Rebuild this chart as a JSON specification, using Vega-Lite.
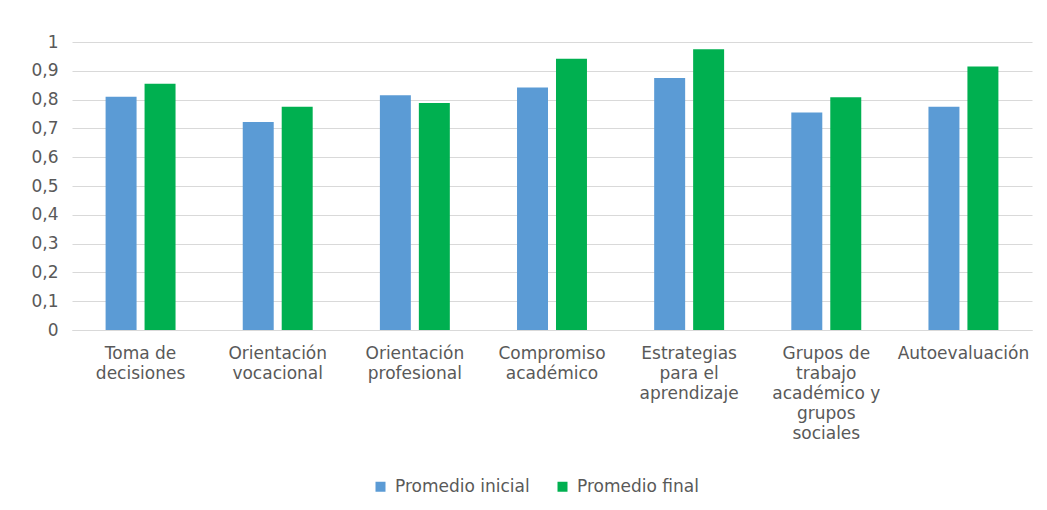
{
  "$schema": "https://vega.github.io/schema/vega-lite/v6.json",
  "autosize": {"type": "none"},
  "width": 960,
  "height": 288,
  "padding": {"left": 72, "top": 42, "right": 15, "bottom": 180},
  "background": "white",
  "data": {
    "values": [
      {"categoria": "Toma de decisiones", "serie": "Promedio inicial", "valor": 0.81},
      {"categoria": "Toma de decisiones", "serie": "Promedio final", "valor": 0.855},
      {"categoria": "Orientación vocacional", "serie": "Promedio inicial", "valor": 0.722},
      {"categoria": "Orientación vocacional", "serie": "Promedio final", "valor": 0.775},
      {"categoria": "Orientación profesional", "serie": "Promedio inicial", "valor": 0.815},
      {"categoria": "Orientación profesional", "serie": "Promedio final", "valor": 0.788},
      {"categoria": "Compromiso académico", "serie": "Promedio inicial", "valor": 0.842},
      {"categoria": "Compromiso académico", "serie": "Promedio final", "valor": 0.942},
      {"categoria": "Estrategias para el aprendizaje", "serie": "Promedio inicial", "valor": 0.875},
      {"categoria": "Estrategias para el aprendizaje", "serie": "Promedio final", "valor": 0.975},
      {"categoria": "Grupos de trabajo académico y grupos sociales", "serie": "Promedio inicial", "valor": 0.755},
      {"categoria": "Grupos de trabajo académico y grupos sociales", "serie": "Promedio final", "valor": 0.808},
      {"categoria": "Autoevaluación", "serie": "Promedio inicial", "valor": 0.775},
      {"categoria": "Autoevaluación", "serie": "Promedio final", "valor": 0.915}
    ]
  },
  "mark": {"type": "bar"},
  "encoding": {
    "x": {
      "field": "categoria",
      "type": "nominal",
      "sort": null,
      "scale": {"paddingInner": 0.49, "paddingOuter": 0.245},
      "axis": {
        "title": null,
        "labelAngle": 0,
        "ticks": false,
        "domain": true,
        "domainColor": "#D9D9D9",
        "labelPadding": 15,
        "labelLineHeight": 20,
        "labelBaseline": "top",
        "labelLimit": 200,
        "labelExpr": "datum.value == 'Toma de decisiones' ? ['Toma de','decisiones'] : datum.value == 'Orientación vocacional' ? ['Orientación','vocacional'] : datum.value == 'Orientación profesional' ? ['Orientación','profesional'] : datum.value == 'Compromiso académico' ? ['Compromiso','académico'] : datum.value == 'Estrategias para el aprendizaje' ? ['Estrategias','para el','aprendizaje'] : datum.value == 'Grupos de trabajo académico y grupos sociales' ? ['Grupos de','trabajo','académico y','grupos','sociales'] : datum.value"
      }
    },
    "xOffset": {
      "field": "serie",
      "type": "nominal",
      "sort": ["Promedio inicial", "Promedio final"],
      "scale": {"paddingInner": 0.205, "paddingOuter": 0}
    },
    "y": {
      "field": "valor",
      "type": "quantitative",
      "scale": {"domain": [0, 1]},
      "axis": {
        "title": null,
        "values": [0, 0.1, 0.2, 0.3, 0.4, 0.5, 0.6, 0.7, 0.8, 0.9, 1],
        "labelExpr": "replace(format(datum.value, '~g'), '.', ',')",
        "ticks": false,
        "domain": false,
        "labelPadding": 14,
        "grid": true,
        "gridColor": "#D9D9D9",
        "gridWidth": 1
      }
    },
    "color": {
      "field": "serie",
      "type": "nominal",
      "sort": ["Promedio inicial", "Promedio final"],
      "scale": {"domain": ["Promedio inicial", "Promedio final"], "range": ["#5B9BD5", "#00B050"]},
      "legend": {
        "title": null,
        "orient": "none",
        "legendX": 300,
        "legendY": 436,
        "direction": "horizontal",
        "symbolType": "square",
        "symbolSize": 100,
        "symbolStrokeWidth": 0,
        "labelOffset": 6,
        "columnPadding": 24
      }
    }
  },
  "config": {
    "font": "DejaVu Sans",
    "view": {"stroke": null},
    "axis": {"labelFont": "DejaVu Sans", "labelFontSize": 17, "labelColor": "#595959"},
    "legend": {"labelFont": "DejaVu Sans", "labelFontSize": 17, "labelColor": "#595959"}
  }
}
